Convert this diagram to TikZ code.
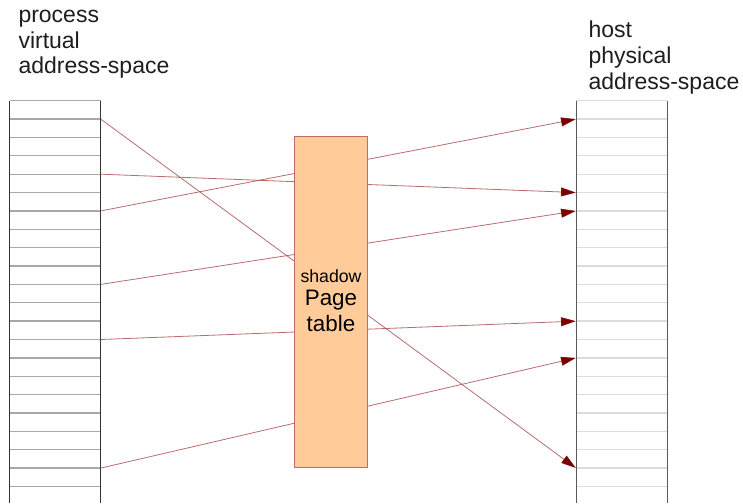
\documentclass[tikz,border=0pt]{standalone}
\usepackage{fontspec}
\setmainfont{Liberation Sans}
\usetikzlibrary{arrows.meta}
\definecolor{ptfill}{HTML}{FFCC99}
\definecolor{ptedge}{HTML}{C46A6A}
\definecolor{maplink}{HTML}{A84848}
\definecolor{tipred}{HTML}{7A0000}
\definecolor{labelink}{HTML}{1E1E1E}
\definecolor{vstripe}{HTML}{A8A8A8}
\definecolor{pstripe}{HTML}{DCDCDC}
\begin{document}
\begin{tikzpicture}[x=1pt,y=-1pt,
  label text/.style={anchor=base west,text=labelink,inner sep=0pt,
    font=\fontsize{23}{26}\selectfont},
  vframe/.style={draw=black!80,line width=1pt},
  pframe/.style={draw=black!65,line width=0.8pt},
  vline/.style={draw=vstripe,line width=1.3pt},
  pline/.style={draw=pstripe,line width=1.3pt},
  maplinkstyle/.style={draw=maplink,draw opacity=0.8,line width=0.8pt,
    -{Triangle[length=15pt,width=9pt,color=tipred]}},
  ptbox/.style={draw=ptedge,fill=ptfill,line width=1pt,
    minimum width=73pt,minimum height=330.5pt,inner sep=0pt},
  pttext/.style={anchor=base,inner sep=0pt,text=black}]
\useasboundingbox (0,0) rectangle (743,503);
\fill[white] (0,0) rectangle (743,503);

% address-space captions
\node[label text] (vcap1) at (18.3,22.7) {process};
\node[label text] (vcap2) at (18.3,48.2) {virtual};
\node[label text] (vcap3) at (18.3,73.7) {address-space};
\node[label text] (pcap1) at (588.3,37.3) {host};
\node[label text] (pcap2) at (588.3,63.2) {physical};
\node[label text] (pcap3) at (588.3,89.5) {address-space};

% page rows of both address spaces
\foreach \k in {1,...,21} {
  \pgfmathsetmacro{\rowy}{100.7+\k*18.37}
  \draw[vline] (9.5,\rowy) -- (100.7,\rowy);
  \draw[pline] (576,\rowy) -- (667.3,\rowy);
  \coordinate (L\k) at (100.7,\rowy);
  \coordinate (R\k) at (576,\rowy);
}
\draw[vline] (9.5,100.7) -- (100.7,100.7);
\draw[pline] (576,100.7) -- (667.3,100.7);
\draw[vframe] (9.5,503) -- (9.5,100.7);
\draw[vframe] (100.7,100.7) -- (100.7,503);
\draw[pframe] (576,503) -- (576,100.7);
\draw[pframe] (667.3,100.7) -- (667.3,503);

% virtual page -> physical page mappings
\draw[maplinkstyle] (L1) -- (R20);
\draw[maplinkstyle] (L4) -- (R5);
\draw[maplinkstyle] (L6) -- (R1);
\draw[maplinkstyle] (L10) -- (R6);
\draw[maplinkstyle] (L13) -- (R12);
\draw[maplinkstyle] (L20) -- (R14);

% shadow page table in front of the mappings
\node[ptbox] (pt) at (331.3,302) {};
\node[pttext,font=\fontsize{17.7}{20}\selectfont] (ptl1) at (331,282.7) {shadow};
\node[pttext,font=\fontsize{22.4}{26}\selectfont] (ptl2) at (331,305.7) {Page};
\node[pttext,font=\fontsize{22.4}{26}\selectfont] (ptl3) at (331,331.7) {table};
\end{tikzpicture}
\end{document}
